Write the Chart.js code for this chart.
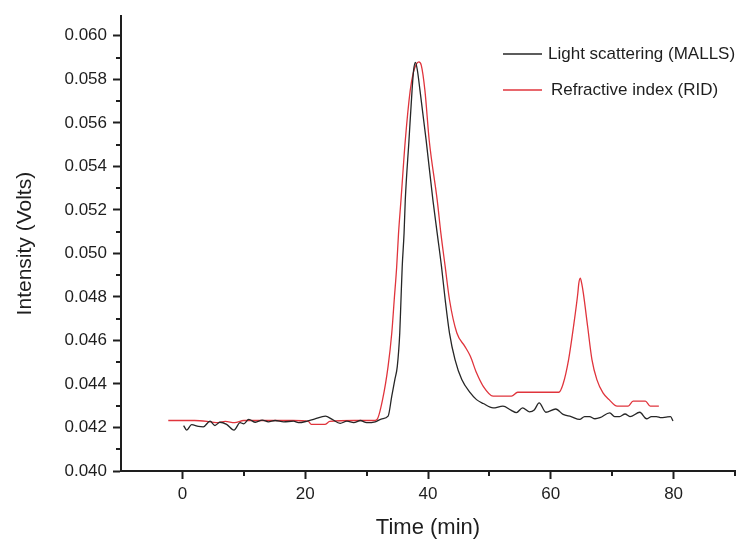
<!DOCTYPE html>
<html>
<head>
<meta charset="utf-8">
<script src="https://cdn.jsdelivr.net/npm/chart.js@4/dist/chart.umd.min.js"></script>
<style>
  html, body { margin: 0; padding: 0; background: #fff; }
  #chart { display: block; }
</style>
</head>
<body>
<canvas id="chart" width="744" height="539"></canvas>
<script>
// Light scattering (MALLS) trace
const mallsTime = [0.2, 0.7, 1.5, 2.6, 3.4, 4.5, 5.3, 6.1, 7.2, 8.4, 9.4, 10.0, 10.8, 11.9, 13.0, 14.0, 15.1, 16.5,
  18.1, 18.9, 20.3, 21.6, 23.3, 24.4, 25.7, 26.8, 27.9, 29.0, 30.0, 31.4, 32.5, 33.5, 34.1, 34.6, 35.0, 35.4, 35.6,
  35.8, 36.1, 36.3, 36.9, 37.4, 37.65, 37.95, 38.25, 38.7, 39.7, 40.8, 41.5, 42.2, 42.8, 43.5, 44.4, 45.5, 46.9, 47.9,
  49.0, 50.6, 52.2, 53.5, 54.4, 55.4, 56.5, 57.3, 58.1, 59.2, 60.8, 62.0, 63.3, 64.7, 65.5, 66.3, 67.2, 68.0, 69.6,
  70.4, 71.2, 72.1, 72.9, 74.5, 75.6, 76.4, 77.2, 78.0, 78.8, 79.5, 79.9];
const mallsVolts = [0.04209, 0.04188, 0.04213, 0.04205, 0.04203, 0.04229, 0.04209, 0.04224, 0.04214, 0.04188, 0.04222,
  0.04217, 0.04237, 0.04224, 0.04234, 0.04226, 0.04232, 0.04226, 0.04229, 0.04222, 0.04229, 0.04240, 0.04252, 0.04237,
  0.04219, 0.04229, 0.04222, 0.04232, 0.04222, 0.04226, 0.04240, 0.04252, 0.04344, 0.04420, 0.04481, 0.04634, 0.04787,
  0.04939, 0.05092, 0.05245, 0.05519, 0.05748, 0.05840, 0.05878, 0.05845, 0.05748, 0.05519, 0.05245, 0.05092, 0.04939,
  0.04787, 0.04634, 0.04512, 0.04420, 0.04359, 0.04328, 0.04310, 0.04290, 0.04298, 0.04280, 0.04268, 0.04290, 0.04272,
  0.04280, 0.04313, 0.04270, 0.04285, 0.04260, 0.04250, 0.04237, 0.04250, 0.04250, 0.04240, 0.04245, 0.04267, 0.04250,
  0.04250, 0.04262, 0.04250, 0.04270, 0.04240, 0.04250, 0.04250, 0.04245, 0.04248, 0.04250, 0.04230];

// Refractive index (RID) trace
const ridTime = [-2.3, 2.0, 4.0, 5.5, 7.0, 8.5, 10.0, 14.0, 18.0, 20.5, 21.0, 23.2, 24.0, 28.0, 31.1, 31.7, 32.6, 33.5,
  34.1, 34.5, 34.9, 35.2, 35.6, 36.3, 37.1, 37.6, 38.1, 38.5, 38.9, 39.5, 40.2, 41.5, 42.1, 42.8, 43.5, 44.7, 46.0,
  46.9, 47.9, 49.0, 50.6, 53.6, 54.6, 61.3, 62.0, 62.9, 63.7, 64.4, 64.55, 64.8, 65.05, 65.3, 66.0, 66.7, 67.5, 68.5,
  69.5, 70.8, 72.6, 73.4, 75.4, 76.2, 77.6];
const ridVolts = [0.04232, 0.04232, 0.04228, 0.04222, 0.04228, 0.04222, 0.04232, 0.04232, 0.04232, 0.04228, 0.04214,
  0.04214, 0.04228, 0.04232, 0.04232, 0.04237, 0.04328, 0.04481, 0.04634, 0.04787, 0.04939, 0.05092, 0.05245, 0.05519,
  0.05748, 0.05830, 0.05870, 0.05880, 0.05865, 0.05748, 0.05519, 0.05245, 0.05092, 0.04939, 0.04787, 0.04634, 0.04573,
  0.04527, 0.04451, 0.04389, 0.04344, 0.04344, 0.04362, 0.04362, 0.04400, 0.04512, 0.04664, 0.04817, 0.04860, 0.04886,
  0.04860, 0.04817, 0.04664, 0.04512, 0.04420, 0.04359, 0.04328, 0.04298, 0.04298, 0.04321, 0.04321, 0.04298, 0.04298];

const xTicks = [0, 20, 40, 60, 80];
const xMinor = [10, 30, 50, 70, 90];
const yTicks = [0.040, 0.042, 0.044, 0.046, 0.048, 0.050, 0.052, 0.054, 0.056, 0.058, 0.060];
const yMinor = [0.041, 0.043, 0.045, 0.047, 0.049, 0.051, 0.053, 0.055, 0.057, 0.059];

const ink = '#1e1e1e';
const font = "'Liberation Sans', Arial, sans-serif";

function points(xs, ys) {
  return xs.map((x, i) => ({ x, y: ys[i] }));
}

const minorTicks = {
  id: 'minorTicks',
  afterDraw(chart) {
    const { ctx, scales: { x, y } } = chart;
    ctx.save();
    ctx.strokeStyle = ink;
    ctx.lineWidth = 2;
    ctx.beginPath();
    xMinor.forEach((v) => {
      const px = Math.round(x.getPixelForValue(v));
      ctx.moveTo(px, x.top);
      ctx.lineTo(px, x.top + 5);
    });
    yMinor.forEach((v) => {
      const py = Math.round(y.getPixelForValue(v));
      ctx.moveTo(y.right, py);
      ctx.lineTo(y.right - 5, py);
    });
    ctx.stroke();
    ctx.restore();
  }
};

const cornerLegend = {
  id: 'cornerLegend',
  afterDraw(chart) {
    const { ctx } = chart;
    const rows = [[54, 548], [90, 551]];
    ctx.save();
    ctx.font = `17px ${font}`;
    ctx.textBaseline = 'middle';
    chart.data.datasets.forEach((ds, i) => {
      const [ly, tx] = rows[i];
      ctx.strokeStyle = ds.borderColor;
      ctx.lineWidth = 1.3;
      ctx.beginPath();
      ctx.moveTo(503, ly);
      ctx.lineTo(542, ly);
      ctx.stroke();
      ctx.fillStyle = ink;
      ctx.fillText(ds.label, tx, ly);
    });
    ctx.restore();
  }
};

new Chart(document.getElementById('chart'), {
  type: 'line',
  data: {
    datasets: [
      { label: 'Light scattering (MALLS)', data: points(mallsTime, mallsVolts), borderColor: '#262626', borderWidth: 1.3 },
      { label: 'Refractive index (RID)', data: points(ridTime, ridVolts), borderColor: '#e0343c', borderWidth: 1.3 }
    ]
  },
  options: {
    responsive: false,
    animation: false,
    layout: { padding: { top: 15, right: 9, left: 0, bottom: 0 } },
    elements: { point: { radius: 0 }, line: { cubicInterpolationMode: 'monotone' } },
    plugins: { legend: { display: false }, tooltip: { enabled: false } },
    scales: {
      x: {
        type: 'linear',
        min: -10,
        max: 90,
        afterBuildTicks: (s) => { s.ticks = xTicks.map((value) => ({ value })); },
        afterFit: (s) => { s.height = 68; },
        ticks: { color: ink, font: { family: font, size: 17 }, padding: 5, maxRotation: 0 },
        grid: { drawOnChartArea: false, tickLength: 8, tickWidth: 2, tickColor: ink },
        border: { color: ink, width: 2 },
        title: { display: true, text: 'Time (min)', color: ink, font: { family: font, size: 22, lineHeight: 1 }, padding: 0 }
      },
      y: {
        min: 0.040,
        max: 0.0609,
        afterBuildTicks: (s) => { s.ticks = yTicks.map((value) => ({ value })); },
        afterFit: (s) => { s.width = 121; },
        ticks: { color: ink, font: { family: font, size: 17 }, padding: 6, callback: (v) => v.toFixed(3) },
        grid: { drawOnChartArea: false, tickLength: 8, tickWidth: 2, tickColor: ink },
        border: { color: ink, width: 2 },
        title: { display: true, text: 'Intensity (Volts)', color: ink, font: { family: font, size: 21, lineHeight: 1 }, padding: { top: 15 } }
      }
    }
  },
  plugins: [minorTicks, cornerLegend]
});
</script>
</body>
</html>
